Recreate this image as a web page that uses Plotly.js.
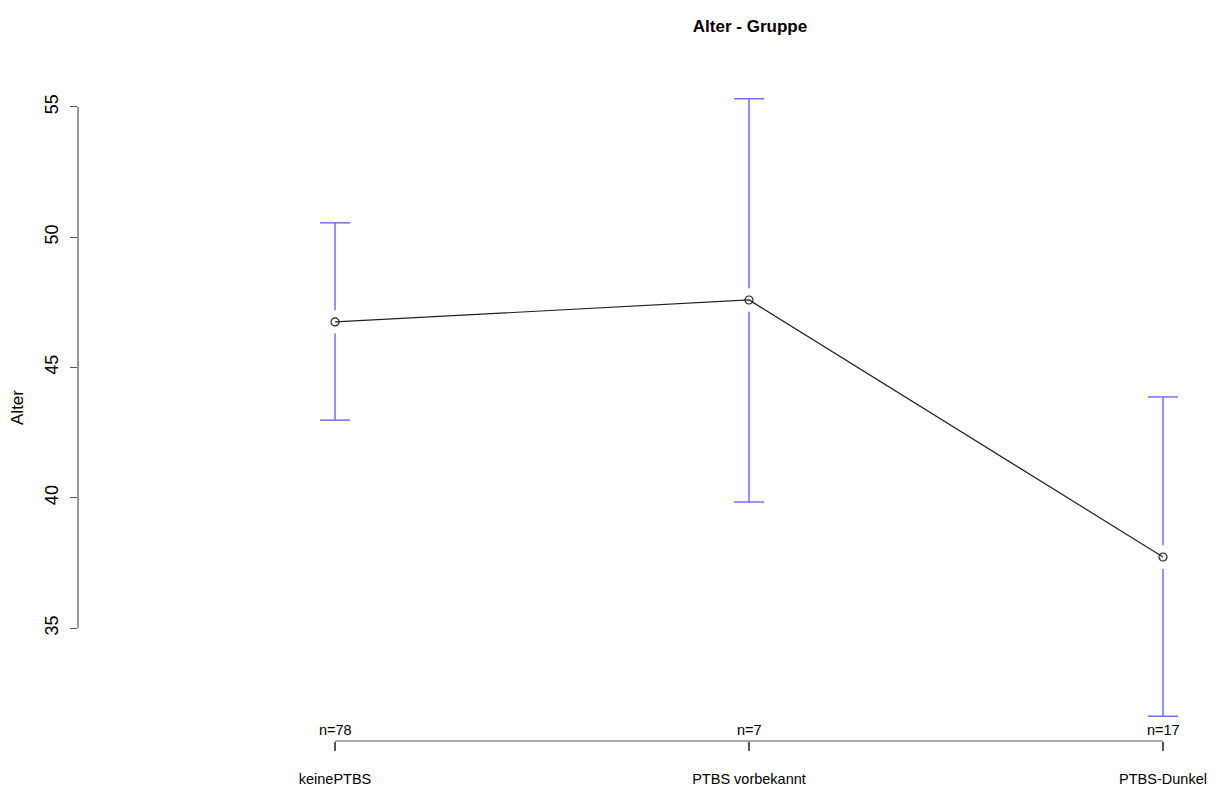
<!DOCTYPE html>
<html>
<head>
<meta charset="utf-8">
<script src="https://cdn.plot.ly/plotly-3.0.1.min.js"></script>
<style>html,body{margin:0;padding:0;background:#fff;}#chart{width:1215px;height:792px;}</style>
</head>
<body>
<div id="chart"></div>
<script>
// ---- data ----
const categories = ["keinePTBS", "PTBS vorbekannt", "PTBS-Dunkel"];
const counts = [78, 7, 17];
const means = [46.75, 47.59, 37.73];
const upperCI = [50.55, 55.31, 43.87];
const lowerCI = [42.98, 39.84, 31.62];
const yTicks = [35, 40, 45, 50, 55];

// ---- styling ----
const FONT = "Liberation Sans, Arial, Helvetica, sans-serif";
const BAR_COLOR = "#7070ff";
const GAP = 0.45; // gap (in y units) between the point and the bar

const xs = categories.map((c, i) => i + 1);

// error bar stems with gap around the mean
const stemX = [], stemY = [];
xs.forEach((x, i) => {
  stemX.push(x, x, null, x, x, null);
  stemY.push(upperCI[i], means[i] + GAP, null, means[i] - GAP, lowerCI[i], null);
});

const traces = [
  {
    x: stemX, y: stemY, type: "scatter", mode: "lines",
    line: {color: BAR_COLOR, width: 1.5}, hoverinfo: "skip", showlegend: false
  },
  {
    x: xs.concat(xs), y: upperCI.concat(lowerCI), type: "scatter", mode: "markers",
    marker: {symbol: "line-ew", size: 21.5, line: {color: BAR_COLOR, width: 1.5}},
    hoverinfo: "skip", showlegend: false
  },
  {
    x: xs, y: means, type: "scatter", mode: "lines+markers",
    line: {color: "#222", width: 1.2},
    marker: {symbol: "circle-open", size: 8, color: "#222", line: {width: 1.2, color: "#222"}},
    showlegend: false
  }
];

const annotations = xs.map((x, i) => ({
  x: x, xref: "x", y: 0, yref: "paper", yanchor: "bottom", xanchor: "center",
  yshift: 1, text: "n=" + counts[i], showarrow: false,
  font: {family: FONT, size: 14.5, color: "#000"}
}));

const shapes = [
  { type: "line", xref: "paper", x0: 0, x1: 0, yref: "y",
    y0: yTicks[0], y1: yTicks[yTicks.length - 1], line: {color: "#555", width: 1.2} },
  { type: "line", xref: "x", x0: xs[0], x1: xs[xs.length - 1], yref: "paper",
    y0: 0, y1: 0, line: {color: "#555", width: 1.2} }
];

const layout = {
  width: 1215, height: 792,
  margin: {l: 78, r: 0, t: 74, b: 51},
  paper_bgcolor: "#fff", plot_bgcolor: "#fff",
  title: {text: "<b>Alter - Gruppe</b>", x: 750 / 1215, xanchor: "center",
          y: 1 - 26 / 792, yanchor: "middle", font: {family: FONT, size: 17, color: "#000"}},
  xaxis: {
    range: [0.3792, 3.1256], tickvals: xs, ticktext: categories,
    showgrid: false, zeroline: false, showline: false,
    ticks: "outside", ticklen: 9, tickcolor: "#555", tickwidth: 1.2,
    tickfont: {family: FONT, size: 14.5, color: "#000"}, ticklabelstandoff: 16
  },
  yaxis: {
    range: [30.67, 56.26], tickvals: yTicks, ticktext: yTicks.map(String),
    showgrid: false, zeroline: false, showline: false,
    ticks: "outside", ticklen: 7, tickcolor: "#555", tickwidth: 1.2,
    tickangle: -90, tickfont: {family: FONT, size: 18, color: "#000"}, ticklabelstandoff: 5,
    title: {text: "Alter", font: {family: FONT, size: 17, color: "#000"}, standoff: 13}
  },
  shapes: shapes,
  annotations: annotations
};

Plotly.newPlot("chart", traces, layout, {displayModeBar: false, staticPlot: true});
</script>
</body>
</html>
